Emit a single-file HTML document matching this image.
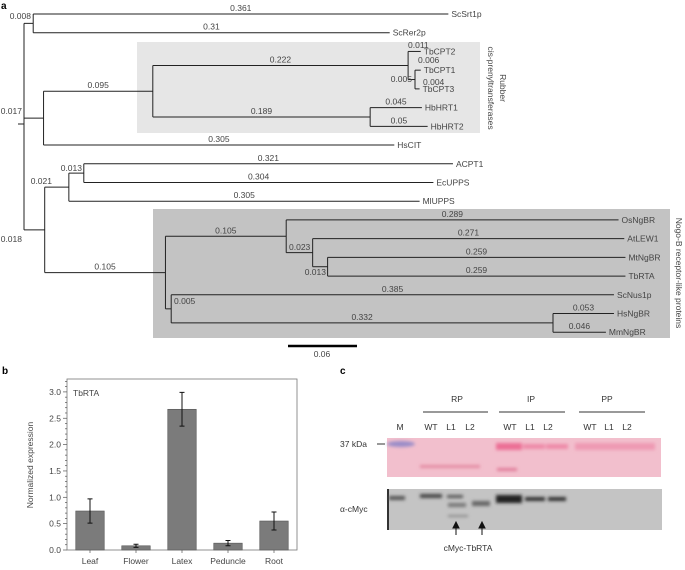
<!DOCTYPE html>
<html><head><meta charset="utf-8"><style>
html,body{margin:0;padding:0;background:#fff;}
svg{display:block;font-family:"Liberation Sans","DejaVu Sans",sans-serif;}
.t{font-size:8.5px;fill:#444;}
.lf{font-size:8.5px;fill:#444;}
</style></head><body>
<svg id="fig" width="685" height="570" viewBox="0 0 685 570" xmlns="http://www.w3.org/2000/svg">
<text x="1" y="9" font-size="10" font-weight="bold">a</text>
<rect x="137" y="42" width="343" height="91" fill="#e6e6e6"/>
<rect x="153" y="209" width="517" height="129" fill="#c3c3c3"/>
<text class="t" transform="translate(500,88) rotate(90)" text-anchor="middle" font-size="9">Rubber</text>
<text class="t" transform="translate(488,88) rotate(90)" text-anchor="middle" font-size="9">cis-prenyltransferases</text>
<text class="t" transform="translate(676,273) rotate(90)" text-anchor="middle" font-size="9">Nogo-B receptor-like proteins</text>
<g id="tree"></g>
<line x1="288" y1="346" x2="357" y2="346" stroke="#000" stroke-width="2.5"/>
<text class="t" x="322" y="357" text-anchor="middle">0.06</text>

<text x="2" y="374" font-size="10" font-weight="bold">b</text>
<g id="bars"></g>

<text x="340" y="374" font-size="10" font-weight="bold">c</text>
<g id="blot">
<defs><filter id="bl" x="-20%" y="-50%" width="140%" height="200%"><feGaussianBlur stdDeviation="1.5"/></filter></defs>
<rect x="387" y="438" width="274" height="39" fill="#f2bfcd"/>
<g filter="url(#bl)">
<ellipse cx="401" cy="444" rx="14" ry="3" fill="#9a8cc8"/>
<rect x="496" y="443" width="26" height="7" fill="#ec6f95"/>
<rect x="523" y="444" width="22" height="5" fill="#ee8aa8"/>
<rect x="546" y="444" width="22" height="5" fill="#ee8aa8"/>
<rect x="575" y="443" width="80" height="7" fill="#ee9ab3"/>
<rect x="420" y="465" width="60" height="3" fill="#e48aa2"/>
<rect x="497" y="468" width="20" height="3" fill="#e07a98"/>
</g>
<rect x="387" y="489" width="275" height="41" fill="#c4c4c4"/>
<rect x="387" y="489" width="2" height="41" fill="#333"/>
<g filter="url(#bl)">
<rect x="389" y="496" width="16" height="4" fill="#555"/>
<rect x="420" y="494" width="22" height="4" fill="#444"/>
<rect x="447" y="495" width="16" height="3" fill="#555"/>
<rect x="448" y="503" width="18" height="4" fill="#777"/>
<rect x="472" y="501" width="18" height="5" fill="#666"/>
<rect x="496" y="495" width="26" height="8" fill="#222"/>
<rect x="525" y="497" width="20" height="4" fill="#333"/>
<rect x="548" y="497" width="18" height="4" fill="#333"/>
<rect x="448" y="515" width="20" height="2" fill="#888"/>
</g>
</g>
<g font-size="8.5" fill="#333">
<text x="457" y="402" text-anchor="middle">RP</text>
<text x="531" y="402" text-anchor="middle">IP</text>
<text x="607" y="402" text-anchor="middle">PP</text>
<line x1="423" y1="412" x2="488" y2="412" stroke="#333"/>
<line x1="499" y1="412" x2="565" y2="412" stroke="#333"/>
<line x1="579" y1="412" x2="645" y2="412" stroke="#333"/>
<g text-anchor="middle">
<text x="400" y="430">M</text><text x="431" y="430">WT</text><text x="451" y="430">L1</text><text x="470" y="430">L2</text>
<text x="510" y="430">WT</text><text x="530" y="430">L1</text><text x="548" y="430">L2</text>
<text x="590" y="430">WT</text><text x="609" y="430">L1</text><text x="627" y="430">L2</text>
</g>
<text x="340" y="447">37 kDa</text>
<line x1="377" y1="444" x2="385" y2="444" stroke="#333"/>
<text x="340" y="512">α-cMyc</text>
<text x="468" y="551" text-anchor="middle">cMyc-TbRTA</text>
<g stroke="#111" stroke-width="1" fill="#111">
<line x1="456" y1="525" x2="456" y2="535"/><path d="M453,528 L456,522 L459,528 Z"/>
<line x1="482" y1="525" x2="482" y2="535"/><path d="M479,528 L482,522 L485,528 Z"/>
</g>
</g>
</svg>
<script>
// ---------- tree data ----------
const leafNames = ["ScSrt1p","ScRer2p","TbCPT2","TbCPT1","TbCPT3","HbHRT1","HbHRT2","HsCIT","ACPT1","EcUPPS","MlUPPS","OsNgBR","AtLEW1","MtNgBR","TbRTA","ScNus1p","HsNgBR","MmNgBR"];
const leafLengths = [0.361,0.31,0.011,0.005,0.004,0.045,0.05,0.305,0.321,0.304,0.305,0.289,0.271,0.259,0.259,0.385,0.053,0.046];
// internal nodes: [id, branchLength, children(leaf index or node id string)]
const nodeIds = ["n008","n017","n095","n222","n006","n189","n018","n021","n013","n105","nNg","n023","n013b","n005","n332"];
const nodeLengths = [0.008,0.017,0.095,0.222,0.006,0.189,0.018,0.021,0.013,0.105,0.105,0.023,0.013,0.005,0.332];
const nodeChildren = [[0,1],["n095",7],["n222","n189"],[2,"n006"],[3,4],[5,6],["n021","n105"],["n013",10],[8,9],["nNg","n005"],[11,"n023"],[12,"n013b"],[13,14],[15,"n332"],[16,17]];
const rootChildren = ["n008","n017","n018"];

const scale = 1150, rootX = 24, leafY0 = 14, leafStep = 18.72;
const svgNS = "http://www.w3.org/2000/svg";
const tree = document.getElementById("tree");
function mk(tag, attrs, parent){const e=document.createElementNS(svgNS,tag);for(const k in attrs)e.setAttribute(k,attrs[k]);(parent||tree).appendChild(e);return e;}
const nodes = {};
nodeIds.forEach((id,i)=>nodes[id]={len:nodeLengths[i],ch:nodeChildren[i]});
function yOf(c){ if(typeof c==="number") return leafY0+leafStep*c; const n=nodes[c]; const ys=n.ch.map(yOf); n.y=(ys[0]+ys[ys.length-1])/2; return n.y; }
const special = {n008:[31,19,"end"],n017:[22,114,"end"],n018:[22,242,"end"],n021:[52,184,"end"],n013:[82,171,"end"],n006:[418,63,"start"],n023:[289,250,"start"],n013b:[326,275,"end"],n005:[174,304,"start"],
  L2:[408,48,"start"],L3:[412,82,"end"],L4:[423,85,"start"]};
function draw(c, px){
  const len = typeof c==="number"? leafLengths[c] : nodes[c].len;
  const y = yOf(c); const x = px + len*scale;
  const ln = mk("line",{x1:px,y1:y,x2:x,y2:y,stroke:"#222","stroke-width":1});
  const key = typeof c==="number"? "L"+c : c;
  
  
  let lx=(px+x)/2, ly=y-3, anc="middle";
  if(special[key]){[lx,ly,anc]=special[key];}
  const t = mk("text",{x:lx,y:ly,"text-anchor":anc,class:"t"}); t.textContent=String(len);
  
  
  if(typeof c==="number"){
    const lb = mk("text",{x:x+3,y:y+3,class:"lf"}); lb.textContent=leafNames[c];
    
    
  } else {
    const n=nodes[c]; const ys=n.ch.map(yOf);
    const v = mk("line",{x1:x,y1:ys[0],x2:x,y2:ys[ys.length-1],stroke:"#222","stroke-width":1});
    
    
    n.ch.forEach(ch=>draw(ch,x));
  }
}
const rys = rootChildren.map(yOf);
const rv = mk("line",{x1:rootX,y1:rys[0],x2:rootX,y2:rys[2],stroke:"#222"});


const rs = mk("line",{x1:rootX-6,y1:124,x2:rootX,y2:124,stroke:"#222"});


rootChildren.forEach(c=>draw(c,rootX));

// ---------- bar chart data ----------
const categories = ["Leaf","Flower","Latex","Peduncle","Root"];
const values = [0.74,0.08,2.67,0.13,0.55];
const errors = [0.23,0.03,0.32,0.05,0.17];
const yTicks = [0,0.5,1.0,1.5,2.0,2.5,3.0];
const bars = document.getElementById("bars");
const px0=67, px1=297, py0=550, ptop=379, unit=52.7;
const ys = v => py0 - v*unit;
const frame = mk("rect",{x:px0,y:ptop,width:px1-px0,height:py0-ptop,fill:"none",stroke:"#777","stroke-width":0.8},bars);


for(let v=0; v<=3.2001; v+=0.1){
  const major = Math.abs(v*2-Math.round(v*2))<1e-6;
  mk("line",{x1:px0-(major?4:2),y1:ys(v),x2:px0,y2:ys(v),stroke:"#555","stroke-width":0.7},bars);
}
yTicks.forEach(v=>{
  const t = mk("text",{x:px0-6,y:ys(v)+3,"text-anchor":"end","font-size":"8.5",fill:"#444"},bars);
  t.textContent=v.toFixed(1);
  
  
});
const yt = mk("text",{transform:"translate(33,465) rotate(-90)","text-anchor":"middle","font-size":"8.5",fill:"#444"},bars);
yt.textContent="Normalized expression";


const tt = mk("text",{x:73,y:396,"font-size":"8.5",fill:"#444"},bars);
tt.textContent="TbRTA";


const slot=(px1-px0)/categories.length, bw=28.5;
categories.forEach((c,i)=>{
  const cx = px0 + slot*(i+0.5);
  const r = mk("rect",{x:cx-bw/2,y:ys(values[i]),width:bw,height:values[i]*unit,fill:"#7b7b7b",stroke:"#555","stroke-width":0.6},bars);
  
  
  const e1=ys(values[i]+errors[i]), e2=ys(values[i]-errors[i]);
  const eb = mk("path",{d:`M${cx},${e1}V${e2}M${cx-2.5},${e1}H${cx+2.5}M${cx-2.5},${e2}H${cx+2.5}`,stroke:"#111","stroke-width":1,fill:"none"},bars);
  
  
  mk("line",{x1:cx,y1:py0,x2:cx,y2:py0+3,stroke:"#555","stroke-width":0.7},bars);
  const t = mk("text",{x:cx,y:py0+14,"text-anchor":"middle","font-size":"8.5",fill:"#444"},bars);
  t.textContent=c;
  
  
});
</script>
</body></html>
